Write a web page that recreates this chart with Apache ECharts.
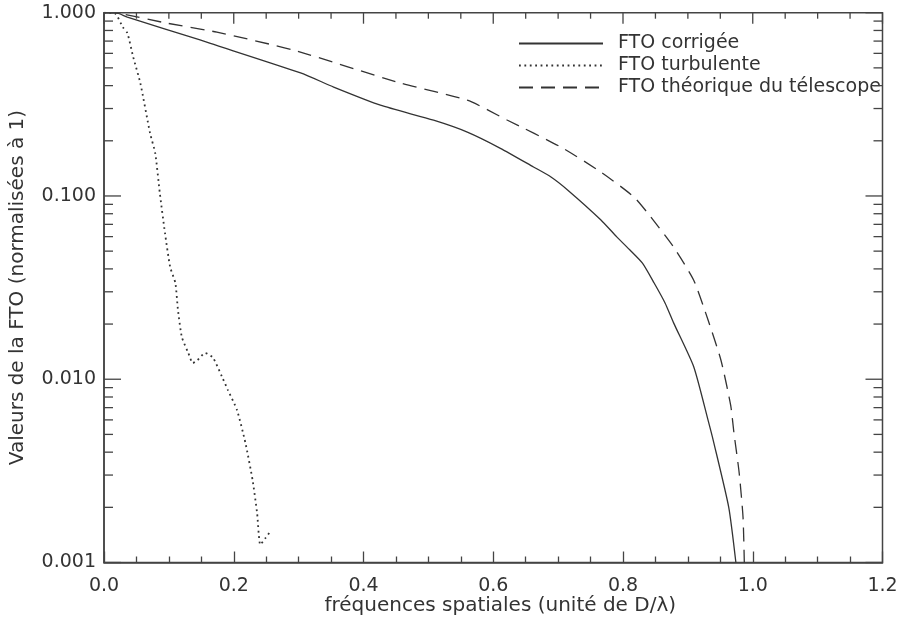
<!DOCTYPE html>
<html>
<head>
<meta charset="utf-8">
<script src="https://cdn.jsdelivr.net/npm/echarts@6/dist/echarts.min.js"></script>
<style>html,body{margin:0;padding:0;background:#fff;}#c{width:897px;height:618px;}</style>
</head>
<body>
<div id="c"></div>
<script>
// ---- data ----
var seriesNames = ['FTO corrigée', 'FTO turbulente', 'FTO théorique du télescope'];

var corrX = [0, 0.018, 0.036, 0.148, 0.164, 0.303, 0.354, 0.426, 0.508, 0.560, 0.611, 0.662, 0.689, 0.715, 0.766, 0.790, 0.810, 0.830, 0.848, 0.865, 0.878, 0.909, 0.931, 0.940, 0.963, 0.974];
var corrY = [1.0, 1.0, 0.946, 0.71, 0.68, 0.469, 0.393, 0.313, 0.259, 0.223, 0.182, 0.144, 0.127, 0.1076, 0.074, 0.060, 0.051, 0.043, 0.0335, 0.026, 0.0203, 0.0117, 0.0060, 0.0045, 0.0020, 0.001];

var turbX = [0, 0.017, 0.029, 0.036, 0.045, 0.056, 0.071, 0.079, 0.086, 0.094, 0.102, 0.110, 0.114, 0.120, 0.130, 0.137, 0.144, 0.156, 0.168, 0.182, 0.191, 0.205, 0.218, 0.229, 0.236, 0.241, 0.249, 0.256];
var turbY = [1.0, 0.99, 0.834, 0.774, 0.573, 0.413, 0.220, 0.171, 0.104, 0.0628, 0.0409, 0.0335, 0.0239, 0.0170, 0.0139, 0.01225, 0.0127, 0.0139, 0.0131, 0.0103, 0.00873, 0.00679, 0.00449, 0.00282, 0.00186, 0.00125, 0.00136, 0.00147];

var theoX = [0, 0.020, 0.097, 0.174, 0.292, 0.457, 0.560, 0.622, 0.704, 0.766, 0.817, 0.843, 0.878, 0.909, 0.931, 0.951, 0.966, 0.971, 0.979, 0.985, 0.987];
var theoY = [1.0, 0.995, 0.877, 0.783, 0.625, 0.413, 0.333, 0.259, 0.185, 0.135, 0.0986, 0.0767, 0.0526, 0.0347, 0.0211, 0.0127, 0.0072, 0.0051, 0.0031, 0.00177, 0.001];

var xTicks = [0, 0.2, 0.4, 0.6, 0.8, 1.0, 1.2];
var xMinorTicks = [0.05, 0.1, 0.15, 0.25, 0.3, 0.35, 0.45, 0.5, 0.55, 0.65, 0.7, 0.75,
                   0.85, 0.9, 0.95, 1.05, 1.1, 1.15];
var yTicks = [0.001, 0.01, 0.1, 1];
var yMinorTicks = [0.002,0.003,0.004,0.005,0.006,0.007,0.008,0.009,
                   0.02,0.03,0.04,0.05,0.06,0.07,0.08,0.09,
                   0.2,0.3,0.4,0.5,0.6,0.7,0.8,0.9];

function pairs(xs, ys) { return xs.map(function (x, i) { return [x, ys[i]]; }); }

var FONT = 'DejaVu Sans';
var INK = '#333';
var AX = '#444';
var X_MIN = 0, X_MAX = 1.2, Y_MIN = 0.001, Y_MAX = 1;

var chart = echarts.init(document.getElementById('c'), null, {renderer: 'canvas'});

// y ticks on left and right frame edges (major flag 1 / minor 0)
var yTickData = yTicks.map(function (v) { return [v, 1]; })
  .concat(yMinorTicks.map(function (v) { return [v, 0]; }));
// x ticks on the top frame edge
var xTickData = xTicks.map(function (v) { return [v, 1]; })
  .concat(xMinorTicks.map(function (v) { return [v, 0]; }));

var yTickSeries = {
  type: 'custom', silent: true, clip: false, z: 50,
  data: yTickData,
  encode: {y: 0},
  renderItem: function (params, api) {
    var v = api.value(0);
    var len = api.value(1) ? 17 : 9;
    var cs = params.coordSys;
    var y = api.coord([X_MIN, v])[1];
    var xl = cs.x, xr = cs.x + cs.width;
    return {
      type: 'group',
      children: [
        {type: 'line', shape: {x1: xl, y1: y, x2: xl + len, y2: y},
         style: {stroke: AX, lineWidth: 1.3}},
        {type: 'line', shape: {x1: xr - len, y1: y, x2: xr, y2: y},
         style: {stroke: AX, lineWidth: 1.3}}
      ]
    };
  }
};

var xTopTickSeries = {
  type: 'custom', silent: true, clip: false, z: 50,
  data: xTickData,
  encode: {x: 0},
  renderItem: function (params, api) {
    var v = api.value(0);
    var len = api.value(1) ? 11 : 6;
    var cs = params.coordSys;
    var x = api.coord([v, Y_MAX])[0];
    return {
      type: 'line', shape: {x1: x, y1: cs.y, x2: x, y2: cs.y + len},
      style: {stroke: AX, lineWidth: 1.3}
    };
  }
};

var lineCommon = {type: 'line', showSymbol: false, symbol: 'none', smooth: 0.2};

var option = {
  backgroundColor: '#fff',
  animation: false,
  grid: {left: 104, right: 14.5, top: 12.7, bottom: 55.5, containLabel: false, outerBoundsMode: 'none',
         show: true, borderColor: AX, borderWidth: 1.5, backgroundColor: 'transparent'},
  legend: {
    show: true,
    orient: 'vertical',
    left: 518, top: 34, padding: 0,
    itemWidth: 84, itemHeight: 14, itemGap: 3,
    data: seriesNames,
    itemStyle: {opacity: 0},
    textStyle: {fontFamily: FONT, fontSize: 19, color: INK, padding: [0, 0, 0, 10]},
    selectedMode: false
  },
  xAxis: {
    type: 'value', min: X_MIN, max: X_MAX, interval: 0.2,
    axisLine: {show: true, lineStyle: {color: AX, width: 1.5}},
    axisTick: {show: true, inside: true, length: 11, lineStyle: {color: AX, width: 1.3}},
    minorTick: {show: true, splitNumber: 4, length: 6, lineStyle: {color: AX, width: 1.3}},
    splitLine: {show: false},
    axisLabel: {show: true, margin: 14, fontFamily: FONT, fontSize: 19, color: INK,
      formatter: function (v) { return v.toFixed(1); }},
    name: 'fréquences spatiales (unité de D/λ)',
    nameLocation: 'middle', nameGap: 33, nameMoveOverlap: false,
    nameTextStyle: {fontFamily: FONT, fontSize: 20, color: INK, padding: [0, 0, 0, 14]}
  },
  yAxis: {
    type: 'log', logBase: 10, min: Y_MIN, max: Y_MAX,
    axisLine: {show: true, lineStyle: {color: AX, width: 1.5}},
    axisTick: {show: false},
    minorTick: {show: false},
    splitLine: {show: false},
    axisLabel: {show: true, margin: 8, fontFamily: FONT, fontSize: 19, color: INK,
      formatter: function (v) { return Number(v).toFixed(3); }},
    name: 'Valeurs de la FTO (normalisées à 1)',
    nameLocation: 'middle', nameGap: 76, nameRotate: 90,
    nameTextStyle: {fontFamily: FONT, fontSize: 20, color: INK}
  },
  series: [
    Object.assign({}, lineCommon, {
      name: seriesNames[0], data: pairs(corrX, corrY),
      lineStyle: {color: INK, width: 1.3, type: 'solid'},
      itemStyle: {color: INK}
    }),
    Object.assign({}, lineCommon, {
      name: seriesNames[1], data: pairs(turbX, turbY),
      lineStyle: {color: INK, width: 1.8, type: [1.8, 3.6]},
      itemStyle: {color: INK}
    }),
    Object.assign({}, lineCommon, {
      name: seriesNames[2], data: pairs(theoX, theoY),
      lineStyle: {color: INK, width: 1.3, type: [14, 8]},
      itemStyle: {color: INK}
    }),
    yTickSeries,
    xTopTickSeries
  ]
};
chart.setOption(option);
</script>
</body>
</html>
